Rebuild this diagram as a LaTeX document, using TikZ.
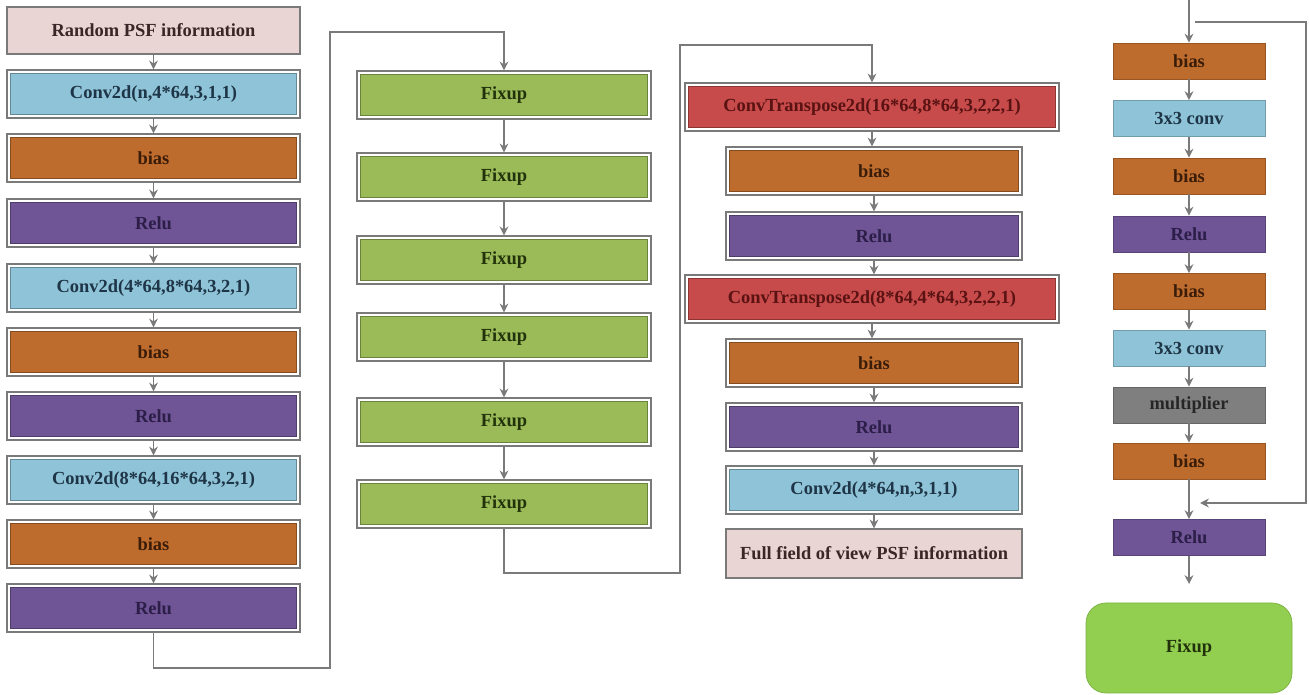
\documentclass[tikz,border=0pt]{standalone}
\usepackage{fontspec}
\setmainfont{Liberation Serif}
\usetikzlibrary{arrows.meta}
\definecolor{cpink}{HTML}{EAD5D5}
\definecolor{cblue}{HTML}{8FC3D7}
\definecolor{corange}{HTML}{BE6C2E}
\definecolor{cpurple}{HTML}{6F5596}
\definecolor{cgreen}{HTML}{9ABB58}
\definecolor{cred}{HTML}{C84B4B}
\definecolor{cgray}{HTML}{7F7F7F}
\definecolor{cfix}{HTML}{92CF50}
\definecolor{cline}{HTML}{7A7A7A}
\definecolor{tblue}{HTML}{1E3547}
\definecolor{tbrown}{HTML}{3A1C08}
\definecolor{tpurple}{HTML}{2C1E48}
\definecolor{tgreen}{HTML}{22330C}
\definecolor{tred}{HTML}{5A1212}
\definecolor{tpink}{HTML}{3A2626}
\begin{document}
\begin{tikzpicture}[x=0.02cm,y=-0.02cm,
  font=\bfseries\fontsize{10.5}{12}\selectfont,
  dbox/.style={draw=cline, line width=0.7pt, fill=white, inner sep=0pt,
    minimum height=48*0.02cm,
    path picture={\fill[#1, draw=#1!70!black, line width=0.4pt]
      ([shift={(0.07cm,-0.07cm)}]path picture bounding box.north west) rectangle
      ([shift={(-0.07cm,0.07cm)}]path picture bounding box.south east);}},
  sbox/.style={draw=cline, line width=0.7pt, fill=#1, inner sep=0pt, minimum height=48*0.02cm},
  rbox/.style={draw=#1!80!black, line width=0.5pt, fill=#1, inner sep=0pt,
    minimum width=152*0.02cm, minimum height=36*0.02cm},
  w1/.style={minimum width=293*0.02cm},
  w2/.style={minimum width=294*0.02cm},
  w3/.style={minimum width=296*0.02cm},
  arr/.style={draw=cline, line width=0.8pt, -{Stealth[length=5pt,width=5pt]}},
  ln/.style={draw=cline, line width=0.8pt}]
\useasboundingbox (0,0) rectangle (1309,695);
\fill[white] (0,0) rectangle (1309,695);
% column 1
\node[sbox=cpink, w1, minimum height=47*0.02cm, text=tpink] (a0) at (153.5,30.5) {Random PSF information};
\node[dbox=cblue, w1, text=tblue] (a1) at (153.5,94) {Conv2d(n,4*64,3,1,1)};
\node[dbox=corange, w1, text=tbrown] (a2) at (153.5,158) {bias};
\node[dbox=cpurple, w1, text=tpurple] (a3) at (153.5,223) {Relu};
\node[dbox=cblue, w1, text=tblue] (a4) at (153.5,288) {Conv2d(4*64,8*64,3,2,1)};
\node[dbox=corange, w1, text=tbrown] (a5) at (153.5,352) {bias};
\node[dbox=cpurple, w1, text=tpurple] (a6) at (153.5,416) {Relu};
\node[dbox=cblue, w1, text=tblue] (a7) at (153.5,480) {Conv2d(8*64,16*64,3,2,1)};
\node[dbox=corange, w1, text=tbrown] (a8) at (153.5,544) {bias};
\node[dbox=cpurple, w1, text=tpurple] (a9) at (153.5,608) {Relu};
\foreach \i [evaluate=\i as \j using int(\i+1)] in {0,...,8}
  \draw[arr] (a\i.south) -- (a\j.north);
% column 2
\node[dbox=cgreen, w2, text=tgreen] (f1) at (504,95) {Fixup};
\node[dbox=cgreen, w2, text=tgreen] (f2) at (504,177) {Fixup};
\node[dbox=cgreen, w2, text=tgreen] (f3) at (504,260) {Fixup};
\node[dbox=cgreen, w2, text=tgreen] (f4) at (504,337) {Fixup};
\node[dbox=cgreen, w2, text=tgreen] (f5) at (504,422) {Fixup};
\node[dbox=cgreen, w2, text=tgreen] (f6) at (504,504) {Fixup};
\foreach \i [evaluate=\i as \j using int(\i+1)] in {1,...,5}
  \draw[arr] (f\i.south) -- (f\j.north);
\coordinate (k1) at (330,668);
\coordinate (k2) at (330,32);
\draw[arr] (a9.south) |- (k1) -- (k2) -| (f1.north);
% column 3
\node[dbox=cred, minimum width=374*0.02cm, text=tred] (t1) at (872,107) {ConvTranspose2d(16*64,8*64,3,2,2,1)};
\node[dbox=corange, w3, text=tbrown] (t2) at (874,171) {bias};
\node[dbox=cpurple, w3, text=tpurple] (t3) at (874,236) {Relu};
\node[dbox=cred, minimum width=374*0.02cm, text=tred] (t4) at (872,299) {ConvTranspose2d(8*64,4*64,3,2,2,1)};
\node[dbox=corange, w3, text=tbrown] (t5) at (874,363) {bias};
\node[dbox=cpurple, w3, text=tpurple] (t6) at (874,427) {Relu};
\node[dbox=cblue, w3, text=tblue] (t7) at (874,490) {Conv2d(4*64,n,3,1,1)};
\node[sbox=cpink, w3, minimum height=49*0.02cm, text=tpink] (t8) at (874,553.5) {Full field of view PSF information};
\foreach \i [evaluate=\i as \j using int(\i+1)] in {1,...,7}
  \draw[arr] (t\i.south) -- (t\i.south |- t\j.north);
\coordinate (k3) at (680,573);
\coordinate (k4) at (680,45);
\draw[arr] (f6.south) |- (k3) -- (k4) -| (t1.north);
% column 4
\node[rbox=corange, text=tbrown] (r1) at (1189,61) {bias};
\node[rbox=cblue, text=tblue] (r2) at (1189,118.5) {3x3 conv};
\node[rbox=corange, text=tbrown] (r3) at (1189,176) {bias};
\node[rbox=cpurple, text=tpurple] (r4) at (1189,234) {Relu};
\node[rbox=corange, text=tbrown] (r5) at (1189,291.5) {bias};
\node[rbox=cblue, text=tblue] (r6) at (1189,348) {3x3 conv};
\node[rbox=cgray, text=black!85] (r7) at (1189,405) {multiplier};
\node[rbox=corange, text=tbrown] (r8) at (1189,461) {bias};
\node[rbox=cpurple, text=tpurple] (r9) at (1189,537.5) {Relu};
\node[fill=cfix, draw=cfix!85!black, line width=0.4pt, rounded corners=0.4cm, inner sep=0pt,
  minimum width=206*0.02cm, minimum height=90*0.02cm, text=tgreen] (fx) at (1189,648) {Fixup};
\coordinate (top) at (1189,0);
\draw[arr] (top) -- (r1.north);
\foreach \i [evaluate=\i as \j using int(\i+1)] in {1,...,8}
  \draw[arr] (r\i.south) -- (r\j.north);
\coordinate (s1) at (1195,22);
\coordinate (s2) at (1306,22);
\coordinate (s3) at (1306,503);
\coordinate (s4) at (1200,503);
\draw[arr] (s1) -- (s2) -- (s3) -- (s4);
\coordinate (e1) at (1189,584);
\draw[arr] (r9.south) -- (e1);
\end{tikzpicture}
\end{document}
